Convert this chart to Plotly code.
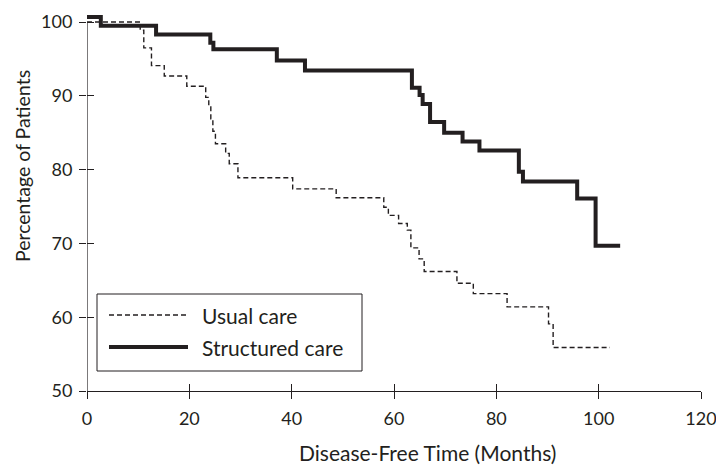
import plotly.graph_objects as go

# ---- data ----
usual_months = [0, 10.4, 11.1, 12.6, 15.1, 19.5, 23.2, 23.8, 24.2, 24.6, 25.1,
                27.1, 27.8, 29.5, 40.2, 48.7, 58.0, 58.9, 60.9, 62.6, 63.3,
                64.9, 65.9, 72.3, 75.5, 82.1, 90.2, 91.1, 102.2]
usual_pct = [100.0, 98.9, 96.5, 94.1, 92.7, 91.3, 89.8, 88.5, 86.9, 85.2, 83.5,
             82.2, 80.8, 78.9, 77.4, 76.2, 74.9, 73.8, 72.7, 71.8, 69.4,
             67.9, 66.2, 64.6, 63.2, 61.4, 59.1, 55.9, 55.9]

struct_months = [0, 2.7, 13.5, 24.1, 24.7, 37.1, 42.6, 63.5, 65.0, 65.6, 67.05,
                 69.8, 73.4, 76.7, 84.4, 85.2, 95.8, 99.4, 104.2]
struct_pct = [100.7, 99.5, 98.3, 97.2, 96.3, 94.8, 93.45, 91.1, 90.1, 88.9, 86.45,
              85.0, 83.8, 82.6, 79.7, 78.4, 76.1, 69.7, 69.7]

x_ticks = [0, 20, 40, 60, 80, 100, 120]
y_ticks = [50, 60, 70, 80, 90, 100]
series_names = ["Usual care", "Structured care"]
x_title = "Disease-Free Time (Months)"
y_title = "Percentage of Patients"

# ---- layout geometry ----
W, H = 716, 465
ML, MR, MT, MB = 87, 15, 11, 74
FONT = "Lato, 'Open Sans', sans-serif"
INK = "#231f20"

def px_x(p):
    return (p - ML) / (W - ML - MR)

def px_y(p):
    return (H - MB - p) / (H - MB - MT)

fig = go.Figure()
fig.add_trace(go.Scatter(x=usual_months, y=usual_pct, mode="lines",
                         line=dict(color=INK, width=1.4, dash="5px,3px", shape="hv"),
                         name=series_names[0], showlegend=False))
fig.add_trace(go.Scatter(x=struct_months, y=struct_pct, mode="lines",
                         line=dict(color=INK, width=4, shape="hv"),
                         name=series_names[1], showlegend=False))

axis_common = dict(showgrid=False, zeroline=False, automargin=False,
                   tickfont=dict(family=FONT, size=18, color=INK),
                   tickcolor=INK, tickwidth=1.2, ticklen=7)

fig.update_layout(
    width=W, height=H,
    margin=dict(l=ML, r=MR, t=MT, b=MB, autoexpand=False),
    paper_bgcolor="white", plot_bgcolor="white",
    font=dict(family=FONT, color=INK),
    showlegend=False,
    xaxis=dict(range=[0, 120], tickvals=x_ticks, ticks="outside", showline=True,
               linecolor=INK, linewidth=1.2, ticklabelstandoff=4,
               ticklabeloverflow="allow", **axis_common),
    yaxis=dict(range=[50, 101.5], tickvals=y_ticks, ticks="outside", showline=False,
               ticklabelstandoff=3, **axis_common),
    xaxis2=dict(range=[0, 120], tickvals=x_ticks, ticks="inside", overlaying="x",
                anchor="y", showticklabels=False, showline=False, showgrid=False,
                zeroline=False, automargin=False, tickcolor=INK, tickwidth=1.2, ticklen=7),
    yaxis2=dict(range=[50, 101.5], tickvals=y_ticks, ticks="inside", overlaying="y",
                anchor="x", showticklabels=False, showline=False, showgrid=False,
                zeroline=False, automargin=False, tickcolor=INK, tickwidth=1.2, ticklen=7),
)

# invisible trace to make the overlay axes render
fig.add_trace(go.Scatter(x=[None], y=[None], xaxis="x2", yaxis="y2", showlegend=False,
                         hoverinfo="skip"))

shapes = []
# y-axis line (from 50 to 100 only)
shapes.append(dict(type="line", xref="x", yref="y", x0=0, x1=0, y0=50, y1=100,
                   line=dict(color=INK, width=1.2)))
# legend box
shapes.append(dict(type="rect", xref="paper", yref="paper",
                   x0=px_x(97), x1=px_x(362), y0=px_y(371), y1=px_y(294),
                   line=dict(color=INK, width=1), fillcolor="white", layer="above"))
shapes.append(dict(type="line", xref="paper", yref="paper",
                   x0=px_x(109), x1=px_x(188), y0=px_y(315), y1=px_y(315),
                   line=dict(color=INK, width=1.4, dash="5px,3px"), layer="above"))
shapes.append(dict(type="line", xref="paper", yref="paper",
                   x0=px_x(109), x1=px_x(188), y0=px_y(347), y1=px_y(347),
                   line=dict(color=INK, width=4), layer="above"))
fig.update_layout(shapes=shapes)

ann = []
ann.append(dict(text=series_names[0], xref="paper", yref="paper", x=px_x(200), y=px_y(315),
                xanchor="left", yanchor="middle", showarrow=False,
                font=dict(family=FONT, size=21, color=INK)))
ann.append(dict(text=series_names[1], xref="paper", yref="paper", x=px_x(200), y=px_y(347),
                xanchor="left", yanchor="middle", showarrow=False,
                font=dict(family=FONT, size=21, color=INK)))
ann.append(dict(text=x_title, xref="paper", yref="paper", x=px_x(427), y=px_y(452),
                xanchor="center", yanchor="middle", showarrow=False,
                font=dict(family=FONT, size=21, color=INK)))
ann.append(dict(text=y_title, xref="paper", yref="paper", x=px_x(22), y=px_y(166),
                xanchor="center", yanchor="middle", showarrow=False, textangle=-90,
                font=dict(family=FONT, size=19.5, color=INK)))
fig.update_layout(annotations=ann)

fig.write_html("out.html", config={"displayModeBar": False},
               post_script="document.body.style.margin='0';document.body.style.overflow='hidden';")
